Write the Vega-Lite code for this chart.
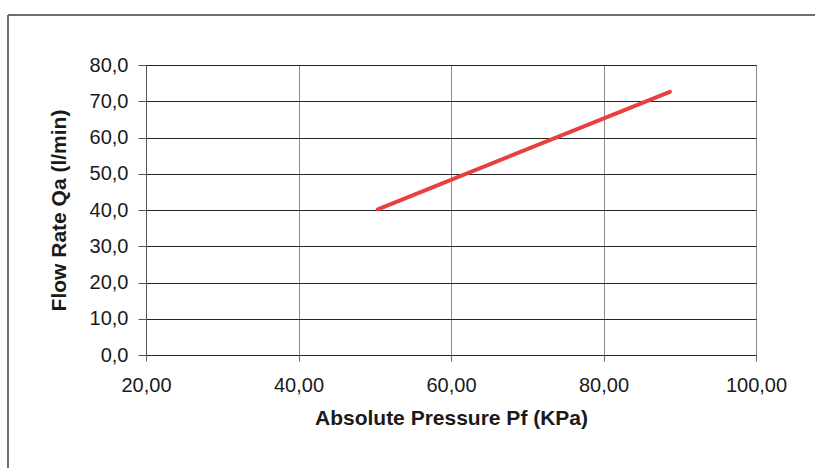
{
  "$schema": "https://vega.github.io/schema/vega-lite/v6.json",
  "width": 610,
  "height": 290,
  "autosize": {"type": "none"},
  "padding": {"left": 146, "top": 65, "right": 59, "bottom": 113},
  "background": "white",
  "data": {"values": [
    {"pressure": 50.4, "flow": 40.2},
    {"pressure": 88.7, "flow": 72.6}
  ]},
  "layer": [
    {
      "mark": {"type": "line", "color": "#e8403f", "strokeWidth": 4, "strokeCap": "round"},
      "encoding": {
        "x": {
          "field": "pressure", "type": "quantitative",
          "scale": {"domain": [20, 100], "nice": false, "zero": false},
          "axis": {"title": "Absolute Pressure Pf (KPa)", "values": [20, 40, 60, 80, 100]}
        },
        "y": {
          "field": "flow", "type": "quantitative",
          "scale": {"domain": [0, 80], "nice": false},
          "axis": {"title": "Flow Rate Qa (l/min)", "values": [0, 10, 20, 30, 40, 50, 60, 70, 80]}
        }
      }
    },
    {
      "mark": {"type": "rule", "color": "#666666", "strokeWidth": 1.5},
      "encoding": {
        "x": {"datum": 1.9, "type": "quantitative", "axis": {"title": "Absolute Pressure Pf (KPa)", "values": [20, 40, 60, 80, 100]}},
        "y": {"datum": 93.8, "type": "quantitative", "axis": {"title": "Flow Rate Qa (l/min)", "values": [0, 10, 20, 30, 40, 50, 60, 70, 80]}},
        "y2": {"datum": -32}
      }
    },
    {
      "mark": {"type": "rule", "color": "#666666", "strokeWidth": 1.5},
      "encoding": {
        "y": {"datum": 93.8, "type": "quantitative", "axis": {"title": "Flow Rate Qa (l/min)", "values": [0, 10, 20, 30, 40, 50, 60, 70, 80]}},
        "x": {"datum": 1.9, "type": "quantitative", "axis": {"title": "Absolute Pressure Pf (KPa)", "values": [20, 40, 60, 80, 100]}},
        "x2": {"datum": 108}
      }
    }
  ],
  "config": {
    "view": {"stroke": "#444444", "strokeWidth": 1},
    "axis": {
      "grid": true, "gridWidth": 1,
      "labelOverlap": false,
      "labelFlush": false,
      "labelFont": "Liberation Sans", "labelFontSize": 20, "labelColor": "#1a1a1a",
      "titleFont": "Liberation Sans", "titleFontSize": 21, "titleFontWeight": "bold", "titleColor": "#1a1a1a"
    },
    "axisX": {
      "labelExpr": "replace(format(datum.value, '.2f'), '.', ',')",
      "gridColor": "#8a8a8a",
      "domain": false,
      "tickColor": "#666666", "tickSize": 6,
      "labelPadding": 14,
      "titlePadding": 12
    },
    "axisY": {
      "labelExpr": "replace(format(datum.value, '.1f'), '.', ',')",
      "gridColor": "#262626",
      "domain": true, "domainColor": "#555555",
      "tickColor": "#555555", "tickSize": 8,
      "labelPadding": 10,
      "titlePadding": 20
    }
  }
}
